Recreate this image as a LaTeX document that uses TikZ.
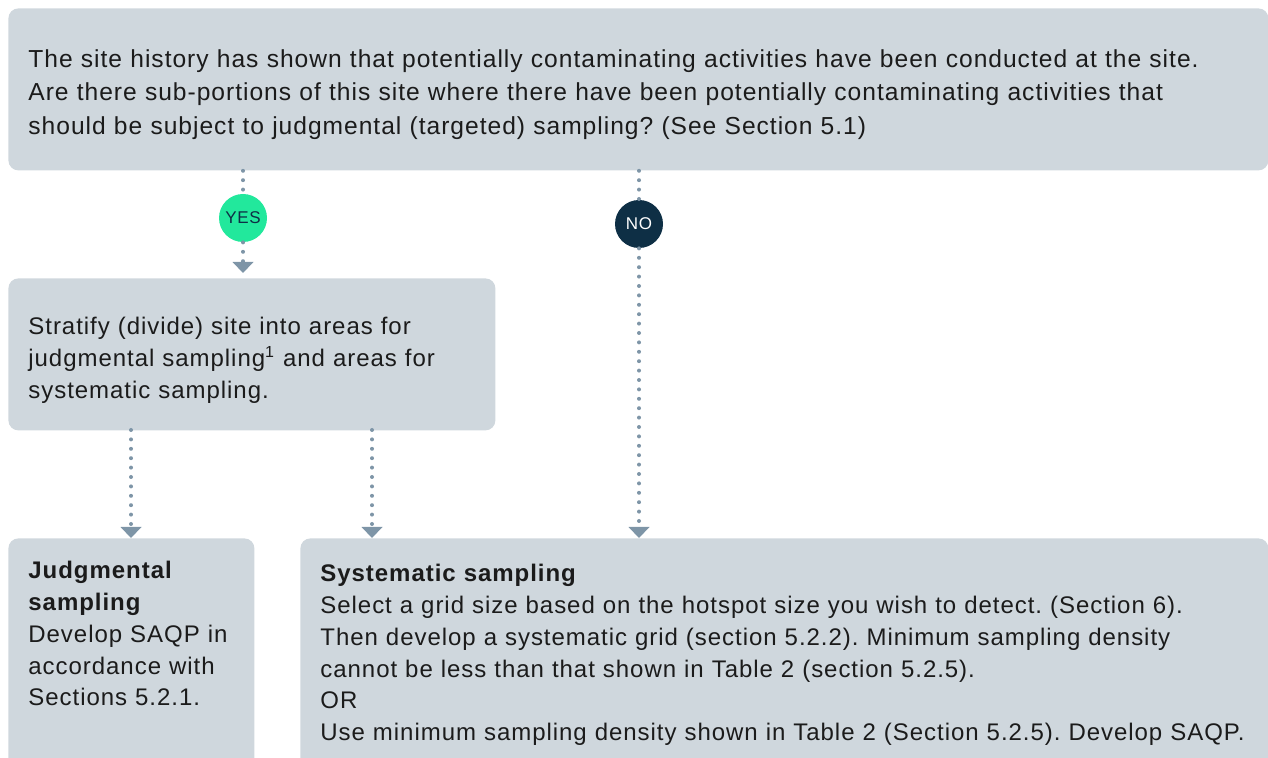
\documentclass[tikz,border=0pt]{standalone}
\usepackage{fontspec}
\setmainfont{Liberation Sans}[LetterSpace=4]
\usetikzlibrary{arrows.meta}
\definecolor{boxgray}{HTML}{CFD7DD}
\definecolor{dotgray}{HTML}{7E95A7}
\definecolor{yesgreen}{HTML}{22E89C}
\definecolor{nonavy}{HTML}{0E2F45}
\definecolor{inkblack}{HTML}{1B1B1B}
\frenchspacing

\begin{document}
\begin{tikzpicture}
[every node/.style={inner sep=0pt},
 box/.style={rectangle, rounded corners=5pt, fill=boxgray, anchor=north west, align=left, inner xsep=10pt, text=inkblack, font=\fontsize{12}{15.9}\selectfont},
 answer/.style={circle, minimum size=24pt, font=\fontsize{8.5}{10}\selectfont},
 flow/.style={line width=2pt, dotgray, line cap=round, dash pattern=on 0pt off 4.7pt, -{Triangle[width=10.5pt,length=5.5pt,line width=0pt]}}]
\useasboundingbox (0pt,0pt) rectangle (634pt,-379pt);
\node (top) [box, minimum height=81pt, text width=610pt, text height=14pt, font=\fontsize{12.3}{16.8}\selectfont] at (4pt,-4pt) {The site history has shown that potentially contaminating activities have been conducted at the site.\\ Are there sub-portions of this site where there have been potentially contaminating activities that\\ should be subject to judgmental (targeted) sampling? (See Section 5.1)};
\node (strat) [box, minimum height=76pt, text width=223.5pt, text height=14.8pt] at (4pt,-139pt) {Stratify (divide) site into areas for\\ judgmental sampling\textsuperscript{1} and areas for\\ systematic sampling.};
\node (judg) [box, inner ysep=11.5pt, text width=103pt, text depth=110pt] at (4pt,-269pt) {\textbf{Judgmental}\\ \textbf{sampling}\\ Develop SAQP in\\ accordance with\\ Sections 5.2.1.};
\node (syst) [box, inner ysep=13pt, text width=464pt, text depth=110pt] at (150pt,-269pt) {\textbf{Systematic sampling}\\ Select a grid size based on the hotspot size you wish to detect. (Section 6).\\ Then develop a systematic grid (section 5.2.2). Minimum sampling density\\ cannot be less than that shown in Table 2 (section 5.2.5).\\ OR\\ Use minimum sampling density shown in Table 2 (Section 5.2.5). Develop SAQP.};
\node (yes) [answer, fill=yesgreen, text=nonavy] at (121.5pt,-109pt) {YES};
\node (no) [answer, fill=nonavy, text=white] at (319.5pt,-112pt) {NO};
\coordinate (split1) at (65.5pt,-215pt);
\coordinate (split2) at (186pt,-215pt);
\draw [flow, -] (top.south -| yes) to (yes);
\draw [flow, shorten >=2.5pt] (yes) to (yes |- strat.north);
\draw [flow, -] (top.south -| no) to (no);
\draw [flow] (no) to (no |- syst.north);
\draw [flow] (split1) to (split1 |- judg.north);
\draw [flow] (split2) to (split2 |- syst.north);
\end{tikzpicture}
\end{document}
